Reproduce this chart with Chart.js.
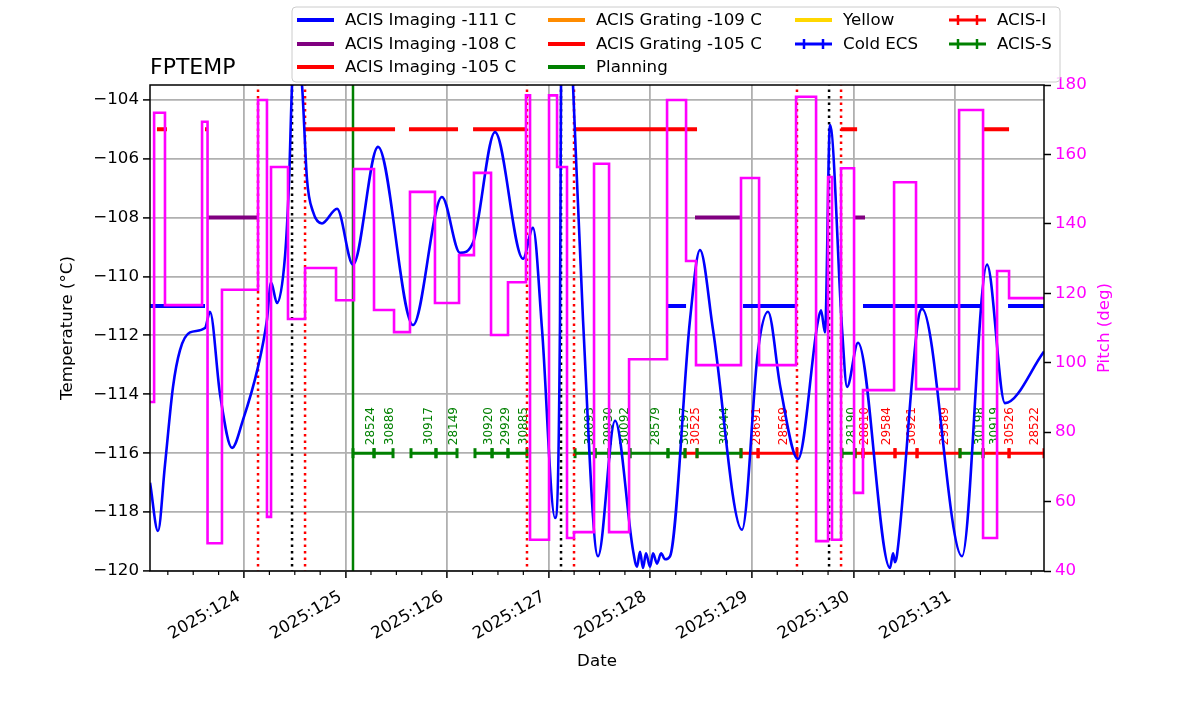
<!DOCTYPE html>
<html lang="en">
<head>
<meta charset="UTF-8">
<title>FPTEMP</title>
<script src="https://cdn.jsdelivr.net/npm/chart.js@4.4.1/dist/chart.umd.min.js"></script>
<style>
    body { margin: 0; background: #fff; }
    #wrap { width: 1200px; height: 714px; position: relative; }
</style>
</head>
<body>
<div id="wrap"><canvas id="fptemp"></canvas></div>
<script>
    // FPTEMP model (deg C) vs day of year 2025
    const tempDays = [123.075, 123.153, 123.222, 123.301, 123.370, 123.468, 123.616, 123.665, 123.764, 123.882,
        123.990, 124.138, 124.226, 124.266, 124.325, 124.404, 124.443, 124.473, 124.512, 124.571, 124.620, 124.679,
        124.768, 124.916, 125.073, 125.319, 125.664, 125.949, 126.127, 126.255, 126.471, 126.747, 126.845,
        126.934, 127.062, 127.111, 127.121, 127.170, 127.239, 127.338, 127.485, 127.653, 127.830, 127.869,
        127.899, 127.928, 127.958, 127.997, 128.027, 128.066, 128.106, 128.145, 128.194, 128.391, 128.489,
        128.617, 128.903, 129.061, 129.159, 129.280, 129.454, 129.651, 129.681, 129.720, 129.769, 129.888,
        129.937, 130.045, 130.360, 130.390, 130.409, 130.429, 130.636, 130.675, 131.069, 131.315, 131.492, 131.876];
    const tempVals = [-117.0, -118.64, -116.4, -113.75, -112.5, -111.9, -111.75, -111.2, -114.0, -115.82,
        -114.87, -113.07, -111.47, -110.2, -110.9, -109.3, -106.8, -103.5, -102.0, -103.5, -106.7, -107.8,
        -108.2, -107.7, -109.6, -105.6, -111.65, -107.3, -109.2, -108.85, -105.1, -109.4, -108.35,
        -111.8, -118.2, -111.5, -103.5, -98.0, -103.5, -111.5, -119.5, -114.9, -119.3, -119.85,
        -119.35, -119.9, -119.4, -119.85, -119.4, -119.75, -119.4, -119.6, -119.5, -111.47, -109.1,
        -111.8, -118.6, -112.5, -111.2, -113.75, -116.2, -111.5, -111.15, -111.9, -104.85, -111.8,
        -113.75, -112.25, -119.9, -119.4, -119.7, -119.45, -111.5, -111.1, -119.5, -109.6, -114.3, -112.55];

    // pitch (deg), each value holds until the next day
    const pitchDays = [123.075, 123.115, 123.222, 123.587, 123.641, 123.783, 124.138, 124.226, 124.266, 124.433,
        124.601, 124.906, 125.083, 125.280, 125.477, 125.634, 125.880, 126.117, 126.264, 126.432, 126.599,
        126.776, 126.816, 127.003, 127.082, 127.180, 127.249, 127.446, 127.594, 127.791, 128.165, 128.352,
        128.450, 128.893, 129.071, 129.435, 129.632, 129.750, 129.789, 129.878, 130.006, 130.094, 130.400,
        130.616, 131.040, 131.276, 131.414, 131.532, 131.876];
    const pitchVals = [88.7, 172, 116.6, 169.4, 48, 121, 175.7, 55.6, 156.4, 112.6,
        127.3, 118, 155.8, 115.2, 108.8, 149.2, 117.2, 131, 154.7, 108, 123.2,
        177, 49, 177, 156.4, 49.5, 51.2, 157.3, 51.2, 101, 175.7, 129.3,
        99.3, 153.2, 99.3, 176.6, 48.6, 153.5, 49, 156, 62.5, 92.1, 152,
        92.4, 172.8, 49.5, 126.4, 118.6, 118.6];

    // state limit spans [start, end]
    const imaging111Spans = [[123.075, 123.616], [128.174, 128.352], [128.913, 129.435], [130.094, 131.276], [131.522, 131.876]];
    const imaging108Spans = [[123.646, 124.128], [128.440, 128.893], [130.016, 130.114]];
    const imaging105Spans = [[123.143, 123.242], [123.616, 123.646], [124.601, 125.487], [125.624, 126.107],
        [126.255, 126.767], [127.259, 128.460], [129.878, 130.036], [131.276, 131.532]];

    const planningDay = 125.073;
    const radzoneDays = [124.138, 124.601, 126.786, 127.249, 129.444, 129.878];
    const perigeeDays = [124.473, 127.121, 129.760];

    // observations on the -116 line
    const acisSSpans = [[125.073, 125.280], [125.280, 125.467], [125.644, 125.890], [125.890, 126.097],
        [126.274, 126.442], [126.442, 126.599], [126.599, 126.786], [127.259, 127.456], [127.456, 127.594],
        [127.594, 127.800], [127.800, 128.174], [128.174, 128.342], [128.460, 128.893], [129.888, 130.016],
        [131.049, 131.276]];
    const acisISpans = [[128.342, 128.460], [128.893, 129.061], [129.061, 129.444], [130.016, 130.094],
        [130.094, 130.409], [130.409, 130.626], [130.626, 131.049], [131.276, 131.532], [131.532, 131.876]];
    const obsIds = ['28524', '30886', '30917', '28149', '30920', '29929', '30885', '30093', '29930', '30092',
        '28579', '30197', '30525', '30944', '28691', '28569', '28190', '28810', '29584', '30921', '29589',
        '30198', '30919', '30526', '28522'];
    const obsLabelDays = [125.280, 125.467, 125.851, 126.097, 126.442, 126.609, 126.786, 127.436, 127.623, 127.781,
        128.086, 128.371, 128.480, 128.765, 129.080, 129.346, 130.016, 130.144, 130.360, 130.606, 130.931,
        131.276, 131.423, 131.571, 131.817];
    const obsInstr = ['S', 'S', 'S', 'S', 'S', 'S', 'S', 'S', 'S', 'S',
        'S', 'S', 'I', 'S', 'I', 'I', 'S', 'I', 'I', 'I', 'I',
        'S', 'S', 'I', 'I'];
    const obsLevel = -116;

    // legend, column by column
    const legendText = ['ACIS Imaging -111 C', 'ACIS Imaging -108 C', 'ACIS Imaging -105 C',
        'ACIS Grating -109 C', 'ACIS Grating -105 C', 'Planning', 'Yellow', 'Cold ECS', 'ACIS-I', 'ACIS-S'];
    const legendColor = ['blue', 'purple', 'red', 'darkorange', 'red', 'green', 'gold', 'blue', 'red', 'green'];
    const legendBars = [false, false, false, false, false, false, false, true, true, true];
    const legendCol = [0, 0, 0, 1, 1, 1, 2, 2, 3, 3];
    const legendRow = [0, 1, 2, 0, 1, 2, 0, 1, 0, 1];

    const FONT = '"DejaVu Sans", sans-serif';
    const FS = 16.67;

    function spans(list, level) {
        const out = [];
        list.forEach(s => {
            out.push({x: s[0], y: level}, {x: s[1], y: level}, {x: s[1], y: null});
        });
        return out;
    }

    function verticals(days) {
        const out = [];
        days.forEach(d => {
            out.push({x: d, y: -130}, {x: d, y: -95}, {x: d, y: null});
        });
        return out;
    }

    const isMajor = v => Math.abs(v - Math.round(v)) < 1e-6;

    const overlay = {
        id: 'overlay',
        beforeDatasetsDraw(chart) {
            const {ctx, scales: {x, y}} = chart;
            const base = y.getPixelForValue(obsLevel) - 8;
            ctx.save();
            ctx.font = '12px ' + FONT;
            ctx.textAlign = 'left';
            ctx.textBaseline = 'alphabetic';
            obsIds.forEach((id, i) => {
                ctx.save();
                ctx.translate(x.getPixelForValue(obsLabelDays[i]), base);
                ctx.rotate(-Math.PI / 2);
                ctx.fillStyle = obsInstr[i] === 'I' ? 'red' : 'green';
                ctx.fillText(id, 0, 0);
                ctx.restore();
            });
            ctx.restore();
        },
        afterDatasetsDraw(chart) {
            const {ctx, chartArea: a} = chart;
            ctx.save();
            ctx.strokeStyle = '#000';
            ctx.lineWidth = 1.5;
            ctx.strokeRect(a.left, a.top, a.right - a.left, a.bottom - a.top);
            ctx.restore();
        },
        afterDraw(chart) {
            const {ctx, chartArea: a, scales: {x}} = chart;
            ctx.save();

            // minor ticks on the date axis
            ctx.strokeStyle = '#000';
            ctx.lineWidth = 1.2;
            x.ticks.forEach(t => {
                if (isMajor(t.value)) return;
                const px = x.getPixelForValue(t.value);
                ctx.beginPath();
                ctx.moveTo(px, a.bottom);
                ctx.lineTo(px, a.bottom + 4);
                ctx.stroke();
            });

            // title
            ctx.fillStyle = '#000';
            ctx.font = '22px ' + FONT;
            ctx.textAlign = 'left';
            ctx.textBaseline = 'alphabetic';
            ctx.fillText('FPTEMP', a.left, 74);

            // right axis title, reading upwards
            ctx.save();
            ctx.translate(1105, (a.top + a.bottom) / 2);
            ctx.rotate(-Math.PI / 2);
            ctx.fillStyle = 'magenta';
            ctx.font = FS + 'px ' + FONT;
            ctx.textAlign = 'center';
            ctx.textBaseline = 'middle';
            ctx.fillText('Pitch (deg)', 0, 0);
            ctx.restore();

            // legend box
            const bx = 292, by = 7, bw = 768, bh = 75, r = 4;
            ctx.beginPath();
            ctx.moveTo(bx + r, by);
            ctx.arcTo(bx + bw, by, bx + bw, by + bh, r);
            ctx.arcTo(bx + bw, by + bh, bx, by + bh, r);
            ctx.arcTo(bx, by + bh, bx, by, r);
            ctx.arcTo(bx, by, bx + bw, by, r);
            ctx.closePath();
            ctx.fillStyle = 'rgba(255,255,255,0.8)';
            ctx.fill();
            ctx.strokeStyle = '#cccccc';
            ctx.lineWidth = 1;
            ctx.stroke();

            const colX = [297, 548, 795, 949];
            const rowY = [20, 44, 67];
            ctx.font = FS + 'px ' + FONT;
            ctx.textBaseline = 'middle';
            legendText.forEach((txt, i) => {
                const hx = colX[legendCol[i]], hy = rowY[legendRow[i]];
                ctx.strokeStyle = legendColor[i];
                ctx.lineWidth = legendBars[i] ? 3 : 4;
                ctx.beginPath();
                ctx.moveTo(hx, hy);
                ctx.lineTo(hx + 37, hy);
                ctx.stroke();
                if (legendBars[i]) {
                    ctx.lineWidth = 2.5;
                    [9, 28].forEach(o => {
                        ctx.beginPath();
                        ctx.moveTo(hx + o, hy - 5);
                        ctx.lineTo(hx + o, hy + 5);
                        ctx.stroke();
                    });
                }
                ctx.fillStyle = '#000';
                ctx.fillText(txt, hx + 48, hy + 1);
            });
            ctx.restore();
        }
    };

    const obsLine = (label, list, color) => ({
        label: label,
        data: spans(list, obsLevel),
        borderColor: color,
        backgroundColor: color,
        borderWidth: 3,
        pointStyle: 'line',
        rotation: 90,
        pointRadius: 5,
        pointBorderWidth: 3,
        pointBorderColor: color,
        spanGaps: false,
        yAxisID: 'y',
        order: 4
    });

    const stateLine = (label, list, level, color) => ({
        label: label,
        data: spans(list, level),
        borderColor: color,
        borderWidth: 4,
        pointRadius: 0,
        spanGaps: false,
        yAxisID: 'y',
        order: 1
    });

    const ctx = document.getElementById('fptemp').getContext('2d');
    const chart = new Chart(ctx, {
        type: 'line',
        data: {
            datasets: [
                {
                    label: 'FPTEMP',
                    data: tempDays.map((d, i) => ({x: d, y: tempVals[i]})),
                    borderColor: 'blue',
                    borderWidth: 2.6,
                    pointRadius: 0,
                    cubicInterpolationMode: 'monotone',
                    yAxisID: 'y',
                    order: 0
                },
                {
                    label: 'Pitch',
                    data: pitchDays.map((d, i) => ({x: d, y: pitchVals[i]})),
                    borderColor: 'magenta',
                    borderWidth: 2.6,
                    pointRadius: 0,
                    stepped: true,
                    yAxisID: 'y2',
                    order: -1
                },
                stateLine('ACIS Imaging -111 C', imaging111Spans, -111, 'blue'),
                stateLine('ACIS Imaging -108 C', imaging108Spans, -108, 'purple'),
                stateLine('ACIS Imaging -105 C', imaging105Spans, -105, 'red'),
                {
                    label: 'Radzone',
                    data: verticals(radzoneDays),
                    borderColor: 'red',
                    borderWidth: 2.5,
                    borderDash: [2.5, 4],
                    pointRadius: 0,
                    spanGaps: false,
                    yAxisID: 'y',
                    order: 2
                },
                {
                    label: 'Perigee',
                    data: verticals(perigeeDays),
                    borderColor: 'black',
                    borderWidth: 2.5,
                    borderDash: [2.5, 4],
                    pointRadius: 0,
                    spanGaps: false,
                    yAxisID: 'y',
                    order: 2
                },
                obsLine('ACIS-S', acisSSpans, 'green'),
                obsLine('ACIS-I', acisISpans, 'red'),
                {
                    label: 'Planning',
                    data: verticals([planningDay]),
                    borderColor: 'green',
                    borderWidth: 2.5,
                    pointRadius: 0,
                    spanGaps: false,
                    yAxisID: 'y',
                    order: 5
                }
            ]
        },
        options: {
            responsive: true,
            maintainAspectRatio: false,
            animation: false,
            events: [],
            layout: { padding: { top: 85, left: 0, right: 0, bottom: 0 } },
            datasets: { line: { clip: 0 } },
            plugins: {
                legend: { display: false },
                title: { display: false },
                tooltip: { enabled: false }
            },
            scales: {
                x: {
                    type: 'linear',
                    position: 'bottom',
                    min: 123.0745,
                    max: 131.876,
                    afterFit: s => { s.height = 143; },
                    border: { display: false },
                    grid: {
                        color: c => (c.tick && isMajor(c.tick.value)) ? '#b0b0b0' : 'rgba(0,0,0,0)',
                        lineWidth: 1.8,
                        tickLength: 7,
                        tickColor: c => (c.tick && isMajor(c.tick.value)) ? '#000' : 'rgba(0,0,0,0)',
                        tickWidth: 1.5
                    },
                    ticks: {
                        stepSize: 0.25,
                        includeBounds: false,
                        autoSkip: false,
                        minRotation: 30,
                        maxRotation: 30,
                        padding: 9,
                        labelOffset: -5,
                        color: '#000',
                        font: { family: FONT, size: FS },
                        callback: v => isMajor(v) ? '2025:' + Math.round(v) : ''
                    },
                    title: {
                        display: true,
                        text: 'Date',
                        color: '#000',
                        font: { family: FONT, size: FS },
                        padding: { top: 0, bottom: 42 }
                    }
                },
                y: {
                    position: 'left',
                    min: -120,
                    max: -103.5,
                    afterFit: s => { s.width = 150; },
                    border: { display: false },
                    grid: {
                        color: '#b0b0b0',
                        lineWidth: 1.8,
                        tickLength: 7,
                        tickColor: '#000',
                        tickWidth: 1.5
                    },
                    ticks: {
                        stepSize: 2,
                        includeBounds: false,
                        padding: 4,
                        color: '#000',
                        font: { family: FONT, size: FS },
                        callback: v => (v < 0 ? '\u2212' : '') + Math.abs(v)
                    },
                    title: {
                        display: true,
                        text: 'Temperature (\u00B0C)',
                        color: '#000',
                        font: { family: FONT, size: FS },
                        padding: { top: 58, bottom: 0 }
                    }
                },
                y2: {
                    position: 'right',
                    min: 40,
                    max: 180,
                    afterFit: s => { s.width = 156; },
                    border: { display: false },
                    grid: {
                        drawOnChartArea: false,
                        tickLength: 7,
                        tickColor: '#000',
                        tickWidth: 1.5
                    },
                    ticks: {
                        stepSize: 20,
                        padding: 4,
                        color: 'magenta',
                        font: { family: FONT, size: FS }
                    }
                }
            }
        },
        plugins: [overlay]
    });
</script>
</body>
</html>
